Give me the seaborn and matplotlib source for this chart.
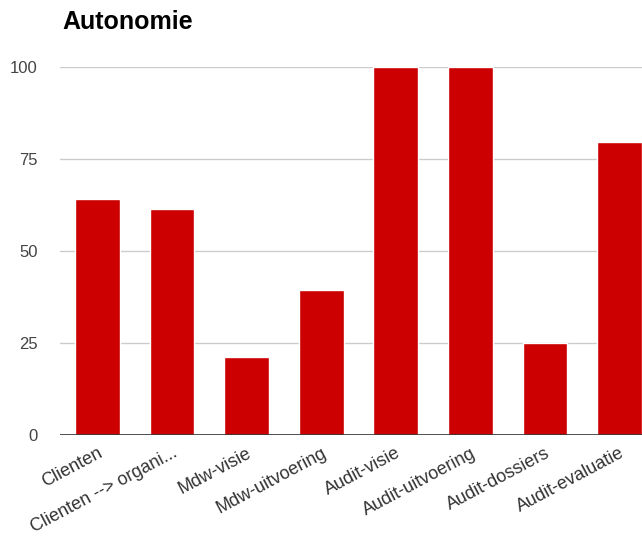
import matplotlib.pyplot as plt
import seaborn as sns
import pandas as pd

# data
categories = ["Clienten", "Clienten --> organi...", "Mdw-visie", "Mdw-uitvoering",
              "Audit-visie", "Audit-uitvoering", "Audit-dossiers", "Audit-evaluatie"]
values = [64, 61.3, 21.3, 39.3, 100, 100, 25, 79.6]
yticks = [0, 25, 50, 75, 100]

df = pd.DataFrame({"cat": categories, "val": values})

sns.set_theme(style="white")
plt.rcParams['font.family'] = ['Liberation Sans', 'DejaVu Sans']

fig = plt.figure(figsize=(6.42, 5.42), dpi=100)
ax = fig.add_axes([60/642, 107/542, 597/642, 368/542])

sns.barplot(data=df, x="cat", y="val", color="#cc0000", width=0.6,
            saturation=1, ax=ax, zorder=3)

ax.set_ylim(0, 100)
ax.set_xlim(-0.5, len(categories) - 0.5)
ax.set_yticks(yticks)
ax.set_yticklabels([str(t) for t in yticks], fontsize=12, color="#444444")
ax.yaxis.grid(True, color="#cccccc", linewidth=1, zorder=0)
ax.axhline(0, color="#333333", linewidth=1.2, zorder=4)
for s in ax.spines.values():
    s.set_visible(False)
ax.tick_params(axis="y", length=0, pad=16)
ax.tick_params(axis="x", length=0, pad=7)
plt.setp(ax.get_xticklabels(), rotation=28, ha="right", rotation_mode="anchor",
         fontsize=13, color="#333333")
ax.set_xlabel("")
ax.set_ylabel("")

fig.text(62/642, 1 - 22/542, "Autonomie", fontsize=18, fontweight="bold",
         color="#000000", va="center", ha="left")

fig.savefig("out.png", dpi=100)
